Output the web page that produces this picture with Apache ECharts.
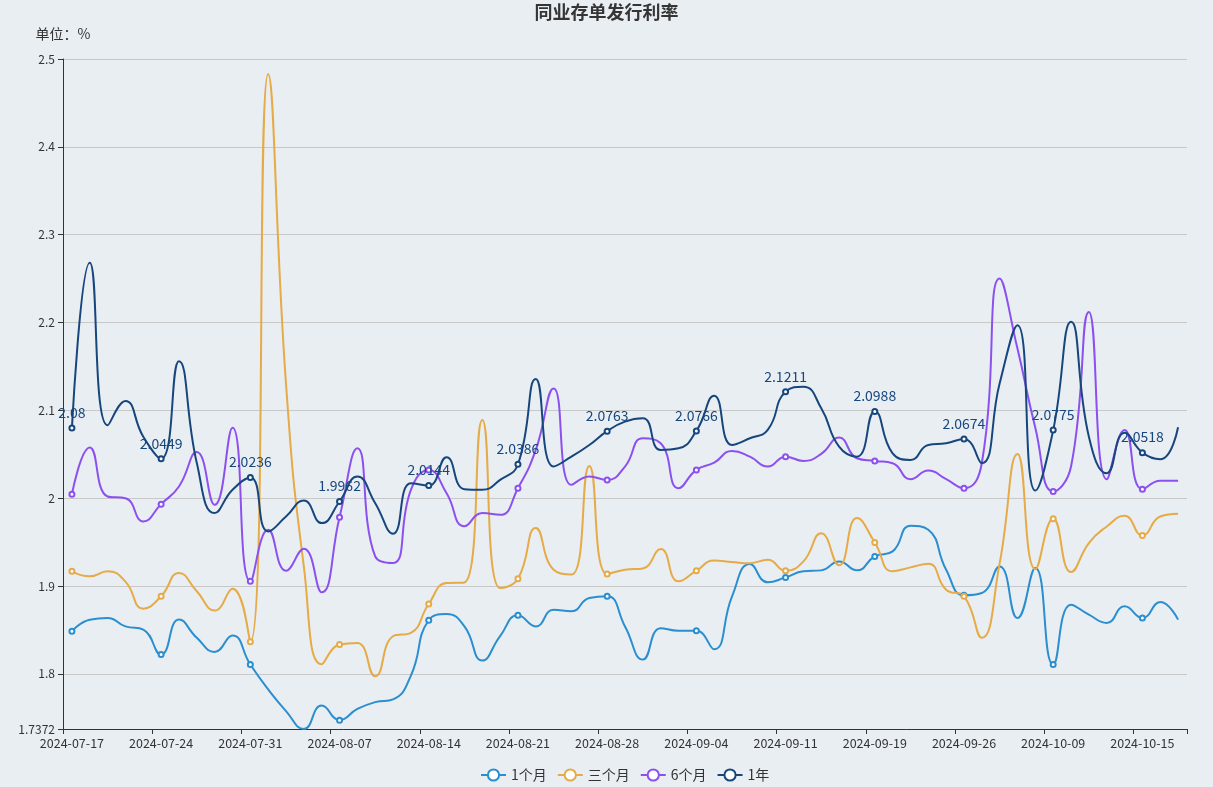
<!DOCTYPE html>
<html>
<head>
<meta charset="utf-8">
<script src="https://cdn.jsdelivr.net/npm/echarts@6/dist/echarts.min.js"></script>
<style>
html,body{margin:0;padding:0;background:#e9eef3;}
#main{width:1213px;height:787px;}
</style>
</head>
<body>
<div id="main"></div>
<script>
var dates = ['2024-07-17','2024-07-18','2024-07-19','2024-07-22','2024-07-23','2024-07-24','2024-07-25','2024-07-26','2024-07-29','2024-07-30','2024-07-31',
'2024-08-01','2024-08-02','2024-08-05','2024-08-06','2024-08-07','2024-08-08','2024-08-09','2024-08-12','2024-08-13','2024-08-14',
'2024-08-15','2024-08-16','2024-08-19','2024-08-20','2024-08-21','2024-08-22','2024-08-23','2024-08-26','2024-08-27','2024-08-28',
'2024-08-29','2024-08-30','2024-09-02','2024-09-03','2024-09-04','2024-09-05','2024-09-06','2024-09-09','2024-09-10','2024-09-11',
'2024-09-12','2024-09-13','2024-09-14','2024-09-18','2024-09-19','2024-09-20','2024-09-23','2024-09-24','2024-09-25','2024-09-26',
'2024-09-27','2024-09-29','2024-09-30','2024-10-08','2024-10-09','2024-10-10','2024-10-11','2024-10-12','2024-10-14','2024-10-15',
'2024-10-16','2024-10-17'];

var rate1M = [1.8485,1.8617,1.8636,1.854,1.8504,1.822,1.862,1.841,1.825,1.8436,1.8106,
1.7822,1.7576,1.7372,1.764,1.7473,1.760,1.7678,1.771,1.798,1.861,
1.868,1.854,1.8152,1.843,1.8667,1.854,1.873,1.8712,1.8864,1.8883,
1.854,1.8163,1.852,1.849,1.849,1.828,1.8883,1.925,1.9042,1.9098,
1.9167,1.9178,1.928,1.9178,1.9337,1.9394,1.9686,1.964,1.9186,1.8894,
1.892,1.9223,1.8636,1.9205,1.8106,1.8788,1.8674,1.858,1.8769,1.8636,
1.8818,1.8617];

var rate3M = [1.9167,1.911,1.9167,1.905,1.8742,1.8883,1.9148,1.894,1.872,1.897,1.8364,
2.483,2.13,1.922,1.811,1.8333,1.8352,1.7973,1.8428,1.8466,1.8795,
1.9034,1.904,2.089,1.8977,1.9083,1.966,1.9186,1.913,2.0367,1.9136,
1.9186,1.920,1.942,1.9053,1.9174,1.929,1.9273,1.926,1.9299,1.9174,
1.928,1.9602,1.9235,1.9773,1.9496,1.9167,1.9212,1.9254,1.8958,1.8883,
1.841,1.9261,2.0504,1.9193,1.9765,1.9159,1.9489,1.9678,1.9799,1.9576,
1.9792,1.9822];

var rate6M = [2.0045,2.0576,2.0019,2.0,1.9735,1.9932,2.0133,2.0527,1.9924,2.0803,1.9053,
1.964,1.9174,1.9424,1.8928,1.9784,2.0568,1.9337,1.9261,2.0095,2.0322,
2.0057,1.968,1.983,1.981,2.0114,2.055,2.125,2.0152,2.0246,2.0208,
2.036,2.0682,2.0625,2.0114,2.0322,2.0405,2.0538,2.0473,2.036,2.0473,
2.0424,2.0504,2.069,2.0455,2.0424,2.0398,2.0216,2.0314,2.0216,2.0114,
2.04,2.25,2.17,2.08,2.0076,2.036,2.212,2.0216,2.0777,2.0102,
2.0197,2.0197];

var rate1Y = [2.08,2.268,2.083,2.1106,2.07,2.0449,2.156,2.04,1.983,2.0095,2.0236,
1.9621,1.979,1.9973,1.9716,1.9962,2.0246,1.9943,1.9595,2.017,2.0144,
2.0466,2.0102,2.0095,2.0208,2.0386,2.1356,2.036,2.0473,2.0606,2.0763,
2.0871,2.0909,2.0549,2.0568,2.0766,2.1167,2.0606,2.0682,2.0777,2.1211,
2.1269,2.1023,2.0587,2.0473,2.0988,2.0511,2.0436,2.0606,2.0625,2.0674,
2.0398,2.1307,2.197,2.0087,2.0775,2.2008,2.07,2.0284,2.0746,2.0518,
2.0443,2.0807];

var seriesNames = ['1个月','三个月','6个月','1年'];
var colors = ['#2a8ecf','#e6aa46','#8c50ef','#17467d'];
var FONT = '"Microsoft YaHei","Noto Sans CJK SC","Noto Sans",sans-serif';

var chart = echarts.init(document.getElementById('main'));

function mk(name, data, color, withLabel) {
  return {
    name: name,
    type: 'line',
    data: data,
    smooth: true,
    symbol: 'emptyCircle',
    symbolSize: 5,
    showAllSymbol: false,
    lineStyle: {width: 2, color: color},
    itemStyle: {color: color, borderWidth: 1},
    label: {
      show: withLabel,
      position: 'top',
      color: color,
      fontSize: 14,
      fontFamily: FONT
    },
    emphasis: {disabled: true}
  };
}

chart.setOption({
  backgroundColor: '#e9eef3',
  animation: false,
  color: colors,
  textStyle: {fontFamily: FONT},
  title: {
    text: '同业存单发行利率',
    left: 'center',
    top: 0,
    padding: [3, 5],
    textStyle: {fontSize: 18, fontWeight: 'bold', color: '#353535', fontFamily: FONT}
  },
  legend: {
    data: seriesNames,
    left: 475,
    bottom: 0,
    itemWidth: 25,
    itemHeight: 14,
    itemGap: 10,
    textStyle: {fontSize: 14, color: '#333', fontFamily: FONT}
  },
  grid: {left: 63, right: 26, top: 59, bottom: 58, containLabel: false},
  xAxis: {
    type: 'category',
    data: dates,
    boundaryGap: true,
    axisLine: {show: true, lineStyle: {color: '#333'}},
    axisTick: {show: true, interval: 4, lineStyle: {color: '#333'}},
    axisLabel: {interval: 4, color: '#333', fontSize: 12.5, fontFamily: FONT}
  },
  yAxis: {
    type: 'value',
    name: '单位：%',
    nameLocation: 'end',
    nameGap: 18,
    nameTextStyle: {color: '#333', fontSize: 14, fontFamily: FONT, align: 'center'},
    min: 'dataMin',
    scale: true,
    axisLine: {show: true, lineStyle: {color: '#333'}},
    axisTick: {show: true, lineStyle: {color: '#333'}},
    axisLabel: {color: '#333', fontSize: 12, fontFamily: FONT},
    splitLine: {show: true, lineStyle: {color: '#c8c8c8'}}
  },
  series: [
    mk(seriesNames[0], rate1M, colors[0], false),
    mk(seriesNames[1], rate3M, colors[1], false),
    mk(seriesNames[2], rate6M, colors[2], false),
    mk(seriesNames[3], rate1Y, colors[3], true)
  ]
});
</script>
</body>
</html>
